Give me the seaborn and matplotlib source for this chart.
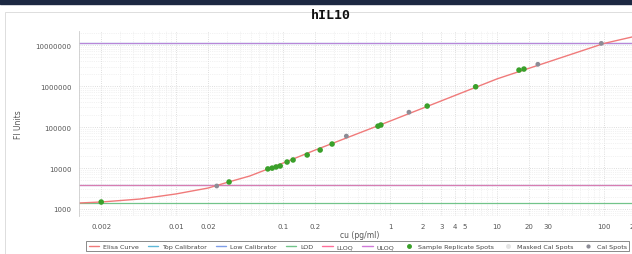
"""
plot.py - hIL10 ELISA standard curve (log-log) with calibrator limits.
"""

import matplotlib
matplotlib.use("Agg")
import matplotlib.pyplot as plt
from matplotlib.lines import Line2D
from matplotlib.patches import Rectangle
import pandas as pd
import seaborn as sns

# fitted curve
curve_conc = [0.00124, 0.002, 0.0046, 0.01, 0.02, 0.031, 0.049, 0.1, 0.2, 1.0, 10.0, 100.0, 217.0]
curve_fi = [1400, 1480, 1750, 2330, 3250, 4560, 6400, 13200, 27500, 140000, 1.5e6, 1.1e7, 1.75e7]

# sample replicate spots (green)
sample_conc = [0.002, 0.0313, 0.072, 0.079, 0.086, 0.094, 0.109, 0.124, 0.168, 0.222, 0.287,
               0.77, 0.82, 2.22, 6.3, 16.0, 17.8]
sample_fi = [1480, 4560, 9500, 9940, 10600, 11200, 14000, 15700, 20800, 27500, 38500,
             105000, 112000, 325000, 960000, 2.45e6, 2.6e6]

# calibrator spots (gray)
cal_conc = [0.024, 0.39, 1.5, 24.0, 94.0]
cal_fi = [3640, 60000, 230000, 3.4e6, 1.1e7]

# horizontal limits
top_calibrator = 1.12e7
uloq = 1.15e7
low_calibrator = 3800
lloq = 3900
lod = 1400

x_ticks = [0.002, 0.01, 0.02, 0.1, 0.2, 1, 2, 3, 4, 5, 10, 20, 30, 100, 200]
x_tick_labels = ["0.002", "0.01", "0.02", "0.1", "0.2", "1", "2", "3", "4", "5",
                 "10", "20", "30", "100", "200"]
y_ticks = [1000, 10000, 100000, 1000000, 10000000]

C_CURVE = "#f07a7a"
C_TOP = "#5fb8d8"
C_LOW = "#7f9ee8"
C_LOD = "#72c48a"
C_LLOQ = "#ff6f9a"
C_ULOQ = "#d07ad8"
C_SAMPLE = "#3aa02a"
C_CAL = "#8c8c96"

sns.set_style("white")
plt.rcParams["font.family"] = ["DejaVu Sans"]

fig = plt.figure(figsize=(6.32, 2.55), dpi=100)
ax = fig.add_axes([0.125, 0.149, 0.888, 0.725])

ax.set_xscale("log")
ax.set_yscale("log")
ax.set_xlim(0.00124, 217)
ax.set_ylim(674, 2.19e7)

ax.grid(True, which="major", color="#d4d4d4", linestyle=":", linewidth=0.6)
ax.grid(True, which="minor", color="#e6e6e6", linestyle=":", linewidth=0.5)
ax.set_axisbelow(True)

ax.axhline(top_calibrator, color=C_TOP, linewidth=0.9)
ax.axhline(uloq, color=C_ULOQ, linewidth=0.9, alpha=0.8)
ax.axhline(low_calibrator, color=C_LOW, linewidth=0.9)
ax.axhline(lloq, color=C_LLOQ, linewidth=0.9, alpha=0.7)
ax.axhline(lod, color=C_LOD, linewidth=0.9)

curve = pd.DataFrame({"conc": curve_conc, "fi": curve_fi})
sns.lineplot(data=curve, x="conc", y="fi", ax=ax, color=C_CURVE, linewidth=1.0, sort=True)

cal = pd.DataFrame({"conc": cal_conc, "fi": cal_fi})
sns.scatterplot(data=cal, x="conc", y="fi", ax=ax, color=C_CAL, s=12, edgecolor="none", zorder=4)

samples = pd.DataFrame({"conc": sample_conc, "fi": sample_fi})
sns.scatterplot(data=samples, x="conc", y="fi", ax=ax, color=C_SAMPLE, s=16, edgecolor="none", zorder=5)

ax.set_xticks(x_ticks)
ax.set_xticklabels(x_tick_labels)
ax.xaxis.set_minor_formatter(matplotlib.ticker.NullFormatter())
ax.set_yticks(y_ticks)
ax.set_yticklabels([str(v) for v in y_ticks])
ax.yaxis.set_minor_formatter(matplotlib.ticker.NullFormatter())
ax.tick_params(axis="both", which="major", labelsize=5, colors="#555555", length=2, width=0.5)
ax.tick_params(axis="x", which="major", length=0, pad=5)
ax.tick_params(axis="both", which="minor", length=0)

ax.set_xlabel("cu (pg/ml)", fontsize=5.5, color="#555555", labelpad=1)
ax.set_ylabel("FI Units", fontsize=5.5, color="#555555", labelpad=9)

for side in ["top", "right", "bottom"]:
    ax.spines[side].set_visible(False)
ax.spines["left"].set_color("#cccccc")
ax.spines["left"].set_linewidth(0.6)

fig.text(0.523, 0.94, "hIL10", ha="center", va="center", fontsize=9.5,
         fontweight="bold", family="DejaVu Sans Mono", color="#111111")

# dark band on top and light frame of the chart panel
fig.patches.append(Rectangle((0, 0.98), 1, 0.02, transform=fig.transFigure,
                             color="#1c2842", zorder=0))
fig.patches.append(Rectangle((0.008, -0.01), 1.0, 0.958, transform=fig.transFigure,
                             fill=False, edgecolor="#d8d8d8", linewidth=0.6, zorder=0))

handles = [
    Line2D([], [], color=C_CURVE, linewidth=1.0, label="Elisa Curve"),
    Line2D([], [], color=C_TOP, linewidth=1.0, label="Top Calibrator"),
    Line2D([], [], color=C_LOW, linewidth=1.0, label="Low Calibrator"),
    Line2D([], [], color=C_LOD, linewidth=1.0, label="LOD"),
    Line2D([], [], color=C_LLOQ, linewidth=1.0, label="LLOQ"),
    Line2D([], [], color=C_ULOQ, linewidth=1.0, label="ULOQ"),
    Line2D([], [], color=C_SAMPLE, marker="o", linestyle="none", markersize=2.5,
           label="Sample Replicate Spots"),
    Line2D([], [], color="#e4e4e4", marker="o", linestyle="none", markersize=2.5,
           label="Masked Cal Spots"),
    Line2D([], [], color=C_CAL, marker="o", linestyle="none", markersize=2,
           label="Cal Spots"),
]
leg = fig.legend(handles=handles, loc="center", bbox_to_anchor=(0.566, 0.03), ncol=9,
                 fontsize=4.6, frameon=True, fancybox=False, handlelength=1.6,
                 handletextpad=0.6, columnspacing=1.45, borderpad=0.35)
leg.get_frame().set_edgecolor("#555555")
leg.get_frame().set_linewidth(0.6)
for t in leg.get_texts():
    t.set_color("#444444")

fig.savefig("out.png", dpi=100)
